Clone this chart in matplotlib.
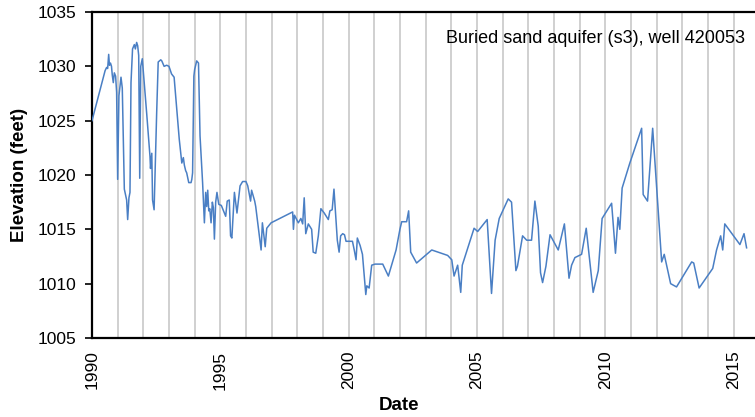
import matplotlib
matplotlib.use("Agg")
import matplotlib.pyplot as plt

years = [
    1990.00, 1990.51, 1990.57, 1990.61, 1990.65, 1990.68, 1990.72, 1990.76, 1990.79, 1990.83,
    1990.87, 1990.92, 1990.96, 1991.00, 1991.05, 1991.13, 1991.18, 1991.26, 1991.35, 1991.39,
    1991.44, 1991.48, 1991.52, 1991.58, 1991.65, 1991.69, 1991.74, 1991.78, 1991.82, 1991.86,
    1991.90, 1991.96, 1992.13, 1992.26, 1992.28, 1992.33, 1992.36, 1992.42, 1992.52, 1992.58,
    1992.68, 1992.72, 1992.81, 1992.91, 1993.00, 1993.10, 1993.20, 1993.40, 1993.50, 1993.56,
    1993.60, 1993.65, 1993.69, 1993.77, 1993.86, 1993.89, 1993.92, 1993.97, 1994.00, 1994.08,
    1994.15, 1994.21, 1994.31, 1994.38, 1994.43, 1994.47, 1994.51, 1994.55, 1994.59, 1994.64,
    1994.69, 1994.73, 1994.77, 1994.82, 1994.87, 1994.94, 1995.04, 1995.21, 1995.27, 1995.35,
    1995.40, 1995.45, 1995.55, 1995.65, 1995.77, 1995.87, 1996.00, 1996.07, 1996.18, 1996.22,
    1996.34, 1996.38, 1996.59, 1996.64, 1996.75, 1996.81, 1996.98, 1997.82, 1997.85, 1997.89,
    1998.04, 1998.14, 1998.21, 1998.27, 1998.33, 1998.43, 1998.56, 1998.62, 1998.72, 1998.82,
    1998.92, 1999.05, 1999.21, 1999.27, 1999.36, 1999.43, 1999.56, 1999.63, 1999.69, 1999.77,
    1999.84, 1999.90, 2000.06, 2000.15, 2000.22, 2000.29, 2000.34, 2000.45, 2000.54, 2000.67,
    2000.71, 2000.80, 2000.90, 2001.03, 2001.33, 2001.55, 2001.85, 2002.00, 2002.07, 2002.26,
    2002.34, 2002.42, 2002.65, 2003.24, 2003.86, 2004.02, 2004.11, 2004.25, 2004.37, 2004.43,
    2004.89, 2005.03, 2005.40, 2005.57, 2005.71, 2005.87, 2006.22, 2006.35, 2006.52, 2006.58,
    2006.78, 2006.94, 2007.13, 2007.26, 2007.39, 2007.48, 2007.56, 2007.69, 2007.85, 2008.17,
    2008.41, 2008.59, 2008.69, 2008.82, 2009.08, 2009.26, 2009.53, 2009.73, 2009.88, 2010.25,
    2010.40, 2010.50, 2010.57, 2010.66, 2010.96, 2011.42, 2011.48, 2011.65, 2011.85, 2012.20,
    2012.30, 2012.55, 2012.78, 2013.37, 2013.45, 2013.66, 2014.19, 2014.34, 2014.50, 2014.58,
    2014.66, 2015.25, 2015.41, 2015.51,
]
elevation = [
    1025.0, 1029.6, 1029.9, 1029.8, 1031.1, 1030.1, 1030.3, 1030.0, 1029.2, 1028.5,
    1029.4, 1029.1, 1027.6, 1019.6, 1027.3, 1029.0, 1028.0, 1018.7, 1017.7, 1015.9,
    1017.9, 1018.4, 1028.5, 1031.6, 1032.0, 1031.6, 1032.2, 1031.9, 1031.0, 1019.7,
    1030.0, 1030.7, 1025.7, 1021.7, 1020.6, 1022.0, 1017.7, 1016.8, 1025.7, 1030.4,
    1030.6, 1030.5, 1030.0, 1030.1, 1030.0, 1029.3, 1029.0, 1023.3, 1021.1, 1021.6,
    1020.9, 1020.4, 1020.2, 1019.3, 1019.3, 1019.6, 1020.2, 1029.1, 1029.7, 1030.5,
    1030.3, 1023.6, 1019.3, 1015.6, 1018.4, 1017.1, 1018.6, 1016.7, 1016.9, 1015.6,
    1017.5, 1017.0, 1014.1, 1017.5, 1018.4, 1017.3, 1017.2, 1016.2, 1017.6, 1017.7,
    1014.4, 1014.2, 1018.4, 1016.5, 1019.0, 1019.4, 1019.4, 1019.0, 1017.6, 1018.6,
    1017.6, 1017.1, 1013.1, 1015.6, 1013.4, 1015.1, 1015.6, 1016.6, 1015.0, 1016.3,
    1015.6, 1016.0, 1015.5, 1017.9, 1014.6, 1015.5, 1015.0, 1012.9, 1012.8, 1014.4,
    1016.9, 1016.5, 1015.9, 1016.7, 1016.8, 1018.7, 1014.0, 1012.9, 1014.4, 1014.6,
    1014.5, 1013.9, 1013.9, 1013.9, 1013.1, 1012.2, 1014.2, 1013.5, 1012.7, 1009.0,
    1009.8, 1009.6, 1011.7, 1011.8, 1011.8, 1010.7, 1013.1, 1015.0, 1015.7, 1015.7,
    1016.7, 1012.9, 1011.9, 1013.1, 1012.6, 1012.2, 1010.7, 1011.7, 1009.2, 1011.7,
    1015.1, 1014.8, 1015.9, 1009.1, 1014.0, 1016.0, 1017.8, 1017.5, 1011.2, 1011.6,
    1014.4, 1014.0, 1014.0, 1017.6, 1015.3, 1011.0, 1010.1, 1011.6, 1014.5, 1013.1,
    1015.5, 1010.5, 1011.7, 1012.4, 1012.7, 1015.1, 1009.2, 1011.2, 1016.0, 1017.4,
    1012.8, 1016.1, 1015.0, 1018.8, 1021.1, 1024.3, 1018.2, 1017.6, 1024.3, 1012.0,
    1012.7, 1010.0, 1009.7, 1012.0, 1011.9, 1009.6, 1011.4, 1013.1, 1014.4, 1013.1,
    1015.5, 1013.6, 1014.6, 1013.3,
]
x_major_ticks = [1990, 1995, 2000, 2005, 2010, 2015]
y_ticks = [1005, 1010, 1015, 1020, 1025, 1030, 1035]
title_text = "Buried sand aquifer (s3), well 420053"

plt.rcParams['font.family'] = ['Liberation Sans', 'DejaVu Sans']

fig = plt.figure(figsize=(7.55, 4.17), dpi=100)
ax = fig.add_axes([92/755, 1 - 338/417, 1 - 92/755, (338 - 12)/417])

ax.plot(years, elevation, color='#4a7fc4', linewidth=1.1, zorder=3)

ax.set_xlim(1990, 1990 + (755 - 92) / 25.66)
ax.set_ylim(1005, 1035)
ax.set_xticks(x_major_ticks)
ax.set_xticklabels([str(t) for t in x_major_ticks], rotation=90, fontsize=12.5)
ax.set_xticks(list(range(1990, 2016)), minor=True)
ax.set_yticks(y_ticks)
ax.set_yticklabels([str(t) for t in y_ticks], fontsize=12.5)

ax.grid(True, axis='x', which='both', color='#c4c4c4', linewidth=1.1, zorder=0)
ax.tick_params(axis='x', which='both', length=0, pad=9)
ax.tick_params(axis='y', length=5, width=1.2, pad=6)

for side in ['left', 'bottom', 'top']:
    ax.spines[side].set_linewidth(1.6)
    ax.spines[side].set_color('black')
ax.spines['right'].set_visible(False)

ax.set_xlabel('Date', fontsize=13.5, fontweight='bold')
ax.xaxis.set_label_coords((399 - 92) / 663, -(405 - 338) / 326, transform=ax.transAxes)
ax.xaxis.label.set_va('center')
ax.set_ylabel('Elevation (feet)', fontsize=13.5, fontweight='bold')
ax.yaxis.set_label_coords(-(92 - 20) / 663, 0.5, transform=ax.transAxes)
ax.yaxis.label.set_va('center')

ax.text(0.985, 0.945, title_text, transform=ax.transAxes, ha='right', va='top', fontsize=13)

fig.savefig('out.png', dpi=100)
